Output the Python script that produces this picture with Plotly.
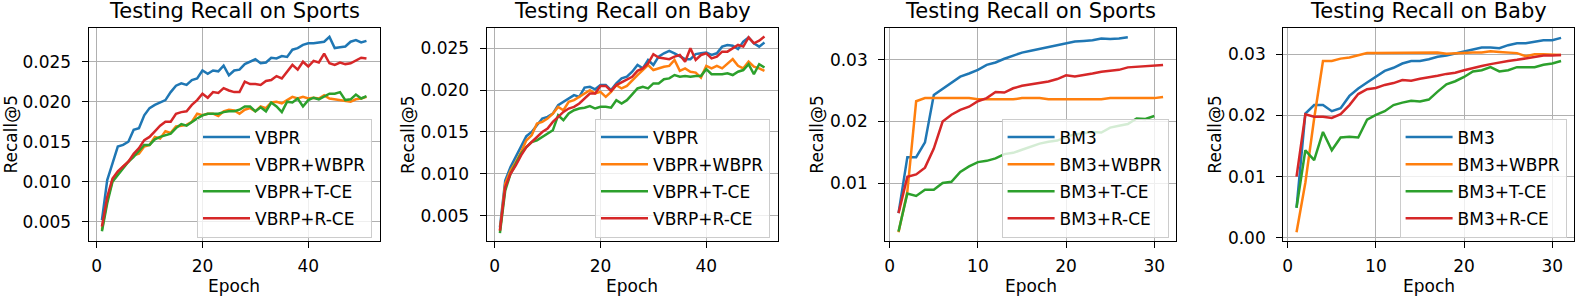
import plotly.graph_objects as go

# ---------------- data ----------------
epochs_51 = list(range(1, 52))
epochs_31 = list(range(1, 32))

titles = ["Testing Recall on Sports", "Testing Recall on Baby",
          "Testing Recall on Sports", "Testing Recall on Baby"]

names_vbpr = ["VBPR", "VBPR+WBPR", "VBPR+T-CE", "VBRP+R-CE"]
names_bm3 = ["BM3", "BM3+WBPR", "BM3+T-CE", "BM3+R-CE"]

# Panel 1: VBPR on Sports
vbpr_sports = [0.0052, 0.0102, 0.0123, 0.0144, 0.0146, 0.0150, 0.0165, 0.0167, 0.0183, 0.0192,
               0.0196, 0.0199, 0.0202, 0.0212, 0.0220, 0.0223, 0.0221, 0.0227, 0.0229, 0.0239,
               0.0235, 0.0239, 0.0238, 0.0245, 0.0233, 0.0239, 0.0240, 0.0247, 0.0250, 0.0253,
               0.0248, 0.0249, 0.0255, 0.0254, 0.0257, 0.0256, 0.0265, 0.0267, 0.0271, 0.0273,
               0.0273, 0.0274, 0.0275, 0.0281, 0.0267, 0.0268, 0.0269, 0.0275, 0.0277, 0.0274, 0.0276]
vbpr_wbpr_sports = [0.0040, 0.0077, 0.0102, 0.0110, 0.0119, 0.0125, 0.0133, 0.0135, 0.0144, 0.0146,
                    0.0156, 0.0154, 0.0163, 0.0161, 0.0169, 0.0170, 0.0171, 0.0175, 0.0185, 0.0183,
                    0.0185, 0.0185, 0.0182, 0.0188, 0.0190, 0.0189, 0.0185, 0.0190, 0.0192, 0.0188,
                    0.0194, 0.0192, 0.0199, 0.0200, 0.0198, 0.0202, 0.0206, 0.0204, 0.0206, 0.0204,
                    0.0205, 0.0204, 0.0208, 0.0204, 0.0203, 0.0202, 0.0201, 0.0200, 0.0203, 0.0204, 0.0206]
vbpr_tce_sports = [0.0038, 0.0073, 0.0100, 0.0108, 0.0117, 0.0125, 0.0131, 0.0138, 0.0146, 0.0146,
                   0.0153, 0.0156, 0.0158, 0.0160, 0.0167, 0.0172, 0.0170, 0.0175, 0.0179, 0.0183,
                   0.0185, 0.0185, 0.0185, 0.0187, 0.0188, 0.0188, 0.0190, 0.0194, 0.0194, 0.0188,
                   0.0193, 0.0188, 0.0199, 0.0194, 0.0187, 0.0200, 0.0199, 0.0204, 0.0194, 0.0202,
                   0.0205, 0.0203, 0.0206, 0.0210, 0.0210, 0.0212, 0.0202, 0.0203, 0.0209, 0.0204, 0.0207]
vbpr_rce_sports = [0.0044, 0.0081, 0.0104, 0.0113, 0.0119, 0.0125, 0.0135, 0.0142, 0.0152, 0.0156,
                   0.0163, 0.0170, 0.0175, 0.0175, 0.0185, 0.0187, 0.0188, 0.0196, 0.0202, 0.0210,
                   0.0205, 0.0212, 0.0211, 0.0217, 0.0214, 0.0212, 0.0212, 0.0225, 0.0222, 0.0222,
                   0.0221, 0.0226, 0.0227, 0.0232, 0.0229, 0.0237, 0.0246, 0.0240, 0.0250, 0.0244,
                   0.0251, 0.0249, 0.0260, 0.0248, 0.0246, 0.0249, 0.0247, 0.0248, 0.0251, 0.0255, 0.0254]

# Panel 2: VBPR on Baby
vbpr_baby = [0.0036, 0.0092, 0.0108, 0.0120, 0.0132, 0.0145, 0.0150, 0.0158, 0.0166, 0.0168,
             0.0172, 0.0182, 0.0186, 0.0190, 0.0194, 0.0192, 0.0203, 0.0204, 0.0201, 0.0206,
             0.0206, 0.0200, 0.0208, 0.0214, 0.0216, 0.0222, 0.0230, 0.0226, 0.0236, 0.0230,
             0.0240, 0.0244, 0.0247, 0.0244, 0.0241, 0.0237, 0.0237, 0.0243, 0.0244, 0.0245,
             0.0242, 0.0244, 0.0252, 0.0254, 0.0253, 0.0249, 0.0258, 0.0263, 0.0256, 0.0252, 0.0257]
vbpr_wbpr_baby = [0.0032, 0.0088, 0.0104, 0.0114, 0.0126, 0.0140, 0.0146, 0.0160, 0.0162, 0.0166,
                  0.0172, 0.0180, 0.0176, 0.0186, 0.0188, 0.0192, 0.0196, 0.0200, 0.0196, 0.0198,
                  0.0192, 0.0198, 0.0206, 0.0202, 0.0205, 0.0212, 0.0218, 0.0224, 0.0230, 0.0224,
                  0.0226, 0.0228, 0.0229, 0.0236, 0.0223, 0.0226, 0.0222, 0.0221, 0.0215, 0.0229,
                  0.0226, 0.0229, 0.0226, 0.0232, 0.0237, 0.0229, 0.0226, 0.0234, 0.0228, 0.0226, 0.0223]
vbpr_tce_baby = [0.0029, 0.0080, 0.0100, 0.0112, 0.0124, 0.0132, 0.0138, 0.0140, 0.0144, 0.0148,
                 0.0152, 0.0170, 0.0164, 0.0172, 0.0176, 0.0178, 0.0179, 0.0181, 0.0178, 0.0180,
                 0.0180, 0.0179, 0.0188, 0.0184, 0.0188, 0.0195, 0.0202, 0.0204, 0.0202, 0.0208,
                 0.0208, 0.0213, 0.0214, 0.0218, 0.0216, 0.0217, 0.0216, 0.0217, 0.0217, 0.0225,
                 0.0219, 0.0219, 0.0219, 0.0220, 0.0218, 0.0222, 0.0224, 0.0231, 0.0219, 0.0231, 0.0227]
vbpr_rce_baby = [0.0032, 0.0084, 0.0100, 0.0110, 0.0122, 0.0132, 0.0138, 0.0144, 0.0150, 0.0154,
                 0.0162, 0.0168, 0.0174, 0.0178, 0.0180, 0.0184, 0.0190, 0.0196, 0.0196, 0.0205,
                 0.0205, 0.0199, 0.0206, 0.0209, 0.0212, 0.0216, 0.0223, 0.0226, 0.0232, 0.0243,
                 0.0239, 0.0238, 0.0237, 0.0240, 0.0242, 0.0234, 0.0250, 0.0236, 0.0242, 0.0244,
                 0.0238, 0.0240, 0.0246, 0.0246, 0.0250, 0.0254, 0.0252, 0.0263, 0.0256, 0.0259, 0.0264]

# Panel 3: BM3 on Sports
bm3_sports = [0.0051, 0.0142, 0.0142, 0.0166, 0.0243, 0.0253, 0.0264, 0.0273, 0.0278, 0.0284,
              0.0292, 0.0296, 0.0302, 0.0307, 0.0312, 0.0315, 0.0318, 0.0321, 0.0325, 0.0327,
              0.0330, 0.0331, 0.0332, 0.0335, 0.0334, 0.0335, 0.0337]
bm3_wbpr_sports = [0.0020, 0.0086, 0.0233, 0.0238, 0.0238, 0.0238, 0.0238, 0.0238, 0.0238, 0.0236,
                   0.0236, 0.0236, 0.0236, 0.0236, 0.0238, 0.0238, 0.0238, 0.0236, 0.0236, 0.0236,
                   0.0236, 0.0236, 0.0236, 0.0236, 0.0238, 0.0238, 0.0238, 0.0238, 0.0238, 0.0238, 0.0240]
bm3_tce_sports = [0.0021, 0.0083, 0.0079, 0.0089, 0.0089, 0.0100, 0.0102, 0.0118, 0.0127, 0.0134,
                  0.0136, 0.0140, 0.0147, 0.0149, 0.0154, 0.0159, 0.0164, 0.0167, 0.0169, 0.0175,
                  0.0179, 0.0181, 0.0183, 0.0182, 0.0190, 0.0193, 0.0196, 0.0205, 0.0204, 0.0209]
bm3_rce_sports = [0.0051, 0.0110, 0.0114, 0.0125, 0.0156, 0.0200, 0.0211, 0.0219, 0.0224, 0.0233,
                  0.0238, 0.0248, 0.0247, 0.0254, 0.0258, 0.0260, 0.0262, 0.0265, 0.0269, 0.0275,
                  0.0273, 0.0275, 0.0278, 0.0281, 0.0283, 0.0284, 0.0288, 0.0289, 0.0291, 0.0291, 0.0292]

# Panel 4: BM3 on Baby
bm3_baby = [0.0049, 0.0203, 0.0217, 0.0217, 0.0207, 0.0212, 0.0232, 0.0244, 0.0254, 0.0263,
            0.0273, 0.0278, 0.0285, 0.0289, 0.0289, 0.0292, 0.0296, 0.0298, 0.0301, 0.0304,
            0.0307, 0.0311, 0.0311, 0.0310, 0.0315, 0.0318, 0.0318, 0.0320, 0.0323, 0.0323, 0.0327]
bm3_wbpr_baby = [0.0009, 0.0090, 0.0195, 0.0289, 0.0289, 0.0293, 0.0295, 0.0299, 0.0302, 0.0302,
                 0.0302, 0.0303, 0.0302, 0.0303, 0.0302, 0.0302, 0.0303, 0.0301, 0.0302, 0.0303,
                 0.0303, 0.0303, 0.0305, 0.0304, 0.0303, 0.0302, 0.0297, 0.0300, 0.0300, 0.0300, 0.0299]
bm3_tce_baby = [0.0049, 0.0143, 0.0127, 0.0173, 0.0143, 0.0164, 0.0165, 0.0164, 0.0193, 0.0201,
                0.0207, 0.0217, 0.0221, 0.0224, 0.0223, 0.0226, 0.0239, 0.0251, 0.0256, 0.0263,
                0.0272, 0.0274, 0.0279, 0.0272, 0.0274, 0.0279, 0.0279, 0.0279, 0.0283, 0.0285, 0.0289]
bm3_rce_baby = [0.0100, 0.0202, 0.0198, 0.0198, 0.0196, 0.0202, 0.0217, 0.0235, 0.0243, 0.0245,
                0.0250, 0.0253, 0.0258, 0.0257, 0.0260, 0.0262, 0.0265, 0.0268, 0.0270, 0.0274,
                0.0278, 0.0281, 0.0284, 0.0287, 0.0289, 0.0291, 0.0293, 0.0296, 0.0298, 0.0298, 0.0299]

x_ticks_vbpr = [0, 20, 40]
x_ticks_bm3 = [0, 10, 20, 30]
y_ticks_vbpr = [0.005, 0.010, 0.015, 0.020, 0.025]
y_ticks_bm3_sports = [0.01, 0.02, 0.03]
y_ticks_bm3_baby = [0.00, 0.01, 0.02, 0.03]

# ---------------- styling / layout ----------------
colors = ["#1f77b4", "#ff7f0e", "#2ca02c", "#d62728"]
FONT = "DejaVu Sans"
W, H = 1577, 297
TOP, BOT = 27.7, 241.0
lefts = [88.7, 486.7, 885.3, 1283.3]
PW = 291.0

panels = [
    dict(series=[vbpr_sports, vbpr_wbpr_sports, vbpr_tce_sports, vbpr_rce_sports], names=names_vbpr,
         xr=[-1.5, 53.5], yr=[0.00259, 0.02925], xt=x_ticks_vbpr, yt=y_ticks_vbpr, yf=".3f", ep=epochs_51, lab_off=77.5),
    dict(series=[vbpr_baby, vbpr_wbpr_baby, vbpr_tce_baby, vbpr_rce_baby], names=names_vbpr,
         xr=[-1.5, 53.5], yr=[0.00197, 0.02746], xt=x_ticks_vbpr, yt=y_ticks_vbpr, yf=".3f", ep=epochs_51, lab_off=78),
    dict(series=[bm3_sports, bm3_wbpr_sports, bm3_tce_sports, bm3_rce_sports], names=names_bm3,
         xr=[-0.5, 32.5], yr=[0.00057, 0.03525], xt=x_ticks_bm3, yt=y_ticks_bm3_sports, yf=".2f", ep=epochs_31, lab_off=68),
    dict(series=[bm3_baby, bm3_wbpr_baby, bm3_tce_baby, bm3_rce_baby], names=names_bm3,
         xr=[-0.5, 32.5], yr=[-0.00054, 0.03436], xt=x_ticks_bm3, yt=y_ticks_bm3_baby, yf=".2f", ep=epochs_31, lab_off=68),
]

fig = go.Figure()
layout = dict(template="none", width=W, height=H, autosize=False,
              margin=dict(l=0, r=0, t=0, b=0, pad=0, autoexpand=False),
              paper_bgcolor="white", plot_bgcolor="white",
              font=dict(family=FONT, size=17, color="black"), showlegend=True)
annotations = []

for i, p in enumerate(panels):
    k = "" if i == 0 else str(i + 1)
    xa, ya = "x" + k, "y" + k
    lg = "legend" + k
    x0 = lefts[i] / W
    x1 = (lefts[i] + PW) / W
    y0 = 1 - BOT / H
    y1 = 1 - TOP / H
    for j, (vals, nm) in enumerate(zip(p["series"], p["names"])):
        fig.add_trace(go.Scatter(x=p["ep"][:len(vals)], y=vals, mode="lines", name=nm,
                                 line=dict(color=colors[j], width=2.5),
                                 xaxis=xa, yaxis=ya, legend=lg, legendgroup=f"g{i}_{j}"))
    axcommon = dict(showline=True, linecolor="black", linewidth=1.3, mirror=True, automargin=False,
                    ticks="outside", ticklen=6, tickwidth=1.3, tickcolor="black",
                    showgrid=True, gridcolor="#b0b0b0", gridwidth=1.3, zeroline=False,
                    tickfont=dict(family=FONT, size=17, color="black"))
    layout["xaxis" + k] = dict(domain=[x0, x1], range=p["xr"], tickvals=p["xt"], anchor=ya,
                               ticklabelstandoff=3, **axcommon)
    layout["yaxis" + k] = dict(domain=[y0, y1], range=p["yr"], tickvals=p["yt"], tickformat=p["yf"],
                               anchor=xa, ticklabelstandoff=7, **axcommon)
    layout[lg] = dict(x=(lefts[i] + PW - 7.7) / W, y=1 - (BOT - 3.5) / H, xanchor="right", yanchor="bottom",
                      xref="paper", yref="paper",
                      bgcolor="rgba(255,255,255,0.8)", bordercolor="#cccccc", borderwidth=1,
                      font=dict(family=FONT, size=17, color="black"),
                      traceorder="grouped", tracegroupgap=2, itemwidth=47)
    cx = (lefts[i] + PW / 2) / W
    annotations.append(dict(text=titles[i], x=cx, y=1 - 11.5 / H, xref="paper", yref="paper",
                            xanchor="center", yanchor="middle", showarrow=False,
                            font=dict(family=FONT, size=21, color="black")))
    annotations.append(dict(text="Epoch", x=cx, y=1 - 285.5 / H, xref="paper", yref="paper",
                            xanchor="center", yanchor="middle", showarrow=False,
                            font=dict(family=FONT, size=17, color="black")))
    annotations.append(dict(text="Recall@5", x=(lefts[i] - p["lab_off"]) / W, y=1 - (TOP + BOT) / 2 / H,
                            xref="paper", yref="paper", xanchor="center", yanchor="middle",
                            textangle=-90, showarrow=False,
                            font=dict(family=FONT, size=17, color="black")))

layout["annotations"] = annotations
fig.update_layout(**layout)

page_css = ("var s=document.createElement('style');"
            "s.textContent='html,body{margin:0;padding:0;overflow:hidden;height:297px;width:1577px;}';"
            "document.head.appendChild(s);")
fig.write_html("out.html",
               config={"displayModeBar": False, "responsive": False},
               post_script=page_css)
